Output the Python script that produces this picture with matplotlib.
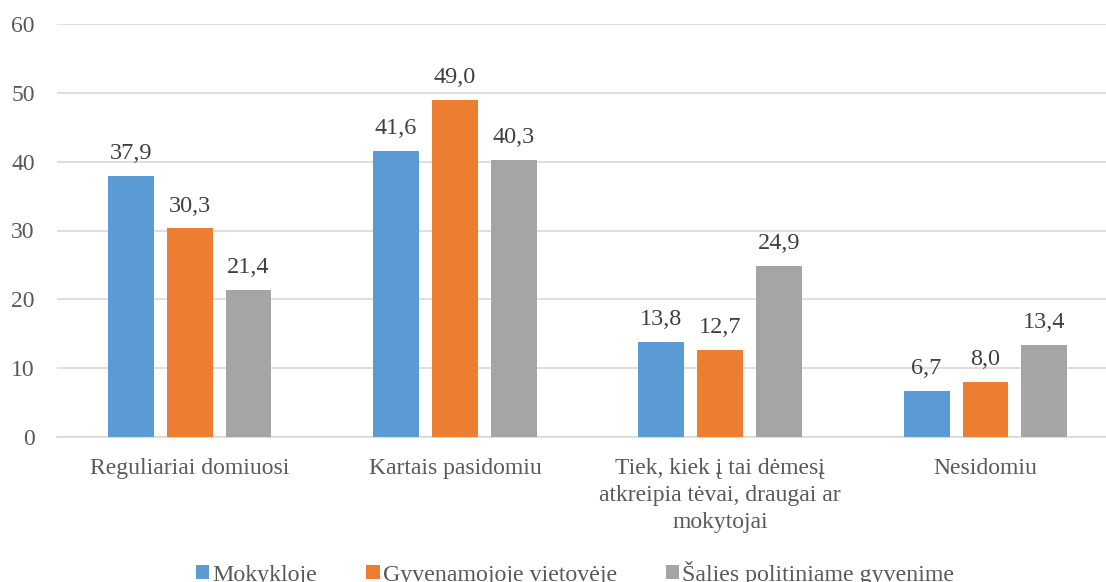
import matplotlib.pyplot as plt
import numpy as np

categories = [
    "Reguliariai domiuosi",
    "Kartais pasidomiu",
    "Tiek, kiek į tai dėmesį\natkreipia tėvai, draugai ar\nmokytojai",
    "Nesidomiu",
]
series_names = ["Mokykloje", "Gyvenamojoje vietovėje", "Šalies politiniame gyvenime"]
mokykloje = [37.9, 41.6, 13.8, 6.7]
vietoveje = [30.3, 49.0, 12.7, 8.0]
salies = [21.4, 40.3, 24.9, 13.4]
colors = ["#5B9BD5", "#ED7D31", "#A5A5A5"]

plt.rcParams["font.family"] = ["Liberation Serif", "DejaVu Serif"]
TEXT = "#595959"

fig = plt.figure(figsize=(11.06, 5.82), dpi=100)
ax = fig.add_axes([57 / 1106, 1 - 437 / 582, 1 - 57 / 1106, (437 - 24) / 582])

x = np.arange(len(categories))
width = 0.173
step = 0.222
for i, (vals, name, c) in enumerate(zip([mokykloje, vietoveje, salies], series_names, colors)):
    pos = x + (i - 1) * step
    ax.bar(pos, vals, width=width, color=c, label=name, zorder=3)
    for p, v in zip(pos, vals):
        ax.annotate(f"{v:.1f}".replace(".", ","), (p, v), xytext=(0, 12),
                    textcoords="offset points", ha="center", va="baseline",
                    fontsize=17.5, color="#404040")

ax.set_ylim(0, 60)
ax.set_yticks(range(0, 61, 10))
ax.set_xlim(-0.5, -0.5 + 1049 / 265.3)
ax.set_xticks(x)
ax.set_xticklabels(categories, linespacing=1.37)
ax.tick_params(axis="both", length=0, labelsize=17, colors=TEXT)
ax.tick_params(axis="x", pad=15)
ax.tick_params(axis="y", pad=16)
ax.grid(axis="y", color="#D9D9D9", linewidth=1.2, zorder=0)
for s in ["top", "right", "left"]:
    ax.spines[s].set_visible(False)
ax.spines["bottom"].set_color("#D9D9D9")
ax.spines["bottom"].set_linewidth(1.2)

fig.legend(loc="center", bbox_to_anchor=(575 / 1106, 1 - 573 / 582), ncol=3, frameon=False,
           fontsize=17.2, handlelength=0.57, handleheight=0.57, handletextpad=0.12,
           columnspacing=2.05, labelcolor=TEXT)

fig.savefig("out.png", dpi=100)
